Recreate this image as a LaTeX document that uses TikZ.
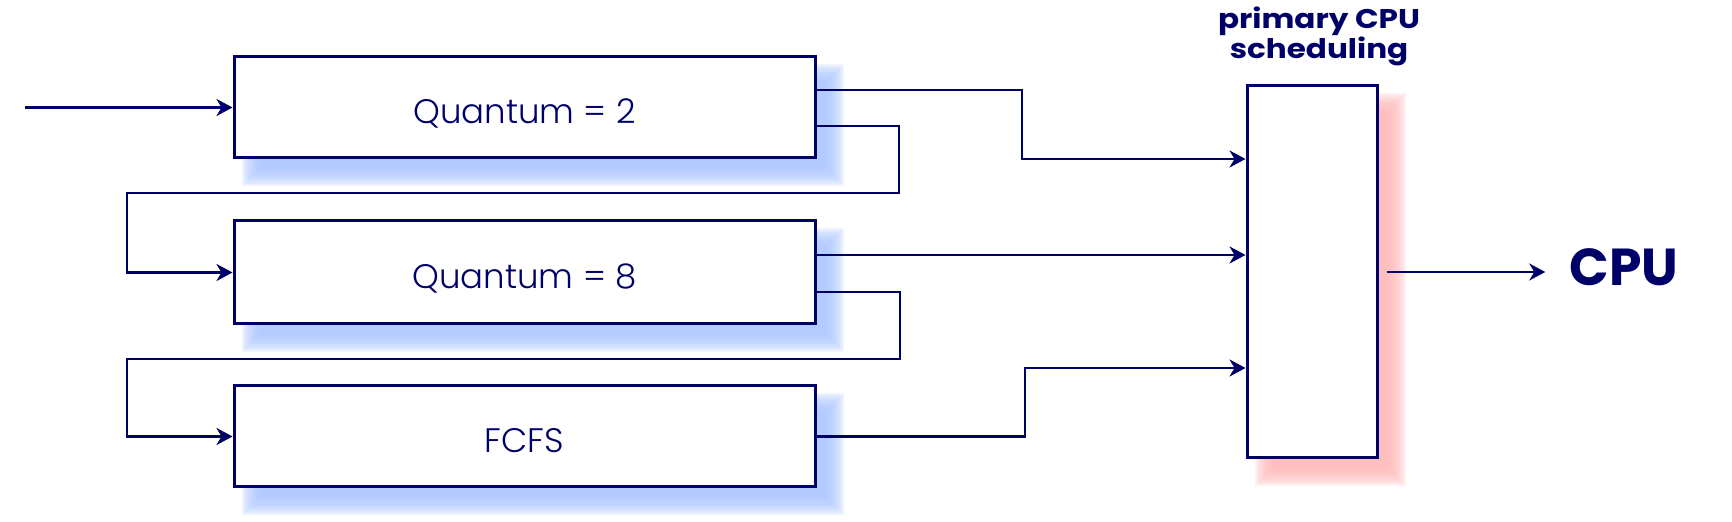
\documentclass[tikz,border=0pt]{standalone}
\usepackage{fontspec}
\setmainfont{Poppins}
\newfontfamily\lightfont{Poppins Light}
\newfontfamily\labfont[FakeStretch=1.15]{Poppins}
\usetikzlibrary{arrows.meta}
\definecolor{navy}{RGB}{0,0,105}
\definecolor{shblue}{RGB}{172,199,255}
\definecolor{shpink}{RGB}{255,185,185}
\pgfdeclarelayer{background}
\pgfsetlayers{background,main}
\newcommand{\softshadow}[2]{%
  \begin{pgfonlayer}{background}
  \foreach \i in {0,...,9}{
    \fill[#2, fill opacity=0.2]
      ([shift={(9+2*\i,27-2*\i)}]#1.south west) rectangle
      ([shift={(27-2*\i,9+2*\i)}]#1.north east);
  }
  \end{pgfonlayer}}
\begin{document}
\begin{tikzpicture}[x=0.5pt,y=-0.5pt,
  qbox/.style={draw=navy, line width=1.5pt, fill=white, minimum width=290.5pt,
    minimum height=50.5pt, text=navy, font=\lightfont\fontsize{17}{20}\selectfont,
    text height=16.5pt, text depth=0pt, inner sep=0pt},
  schbox/.style={draw=navy, line width=1.5pt, fill=white, minimum width=65pt,
    minimum height=186pt, inner sep=0pt},
  conn/.style={draw=navy, line width=1.4pt},
  arr/.style={conn, -{Stealth[length=8pt,width=8.5pt,inset=2.5pt]}},
  lbl/.style={text=navy, inner sep=0pt, anchor=base},
]
\begin{pgfonlayer}{background}
\fill[white] (0,0) rectangle (1732,522);
\end{pgfonlayer}
\useasboundingbox (0,0) rectangle (1732,522);

\node[qbox] (b1) at (524.5,107.5) {Quantum = 2};
\node[qbox, minimum height=51.5pt] (b2) at (524.5,272.5) {Quantum = 8};
\node[qbox] (b3) at (524.5,436.5) {FCFS};
\node[schbox] (sch) at (1312,272) {};
\node[lbl, font=\labfont\bfseries\fontsize{13.5}{13}\selectfont, align=center] (lab) at (1319,59) {primary CPU\\scheduling};
\node[lbl, font=\bfseries\fontsize{26}{30}\selectfont] (cpu) at (1624,286) {CPU};

\softshadow{b1}{shblue}
\softshadow{b2}{shblue}
\softshadow{b3}{shblue}
\softshadow{sch}{shpink}

\coordinate (in) at (25,107.5);
\draw[arr] (in) -- (b1.west);
\draw[arr] (b1.east |- 0,90) -| (1022,159) -- (sch.west |- 0,159);
\draw[arr] (b1.east |- 0,126) -| (899,193) -| (127,272.5) -- (b2.west);
\draw[arr] (b2.east |- 0,255) -- (sch.west |- 0,255);
\draw[arr] (b2.east |- 0,292) -| (900,359) -| (127,436.5) -- (b3.west);
\draw[arr] (b3.east |- 0,436.5) -| (1025,368) -- (sch.west |- 0,368);
\coordinate (cpuin) at (cpu.west |- sch.east);
\draw[arr] ([xshift=4pt]sch.east) -- ([xshift=-12pt]cpuin);
\end{tikzpicture}
\end{document}
